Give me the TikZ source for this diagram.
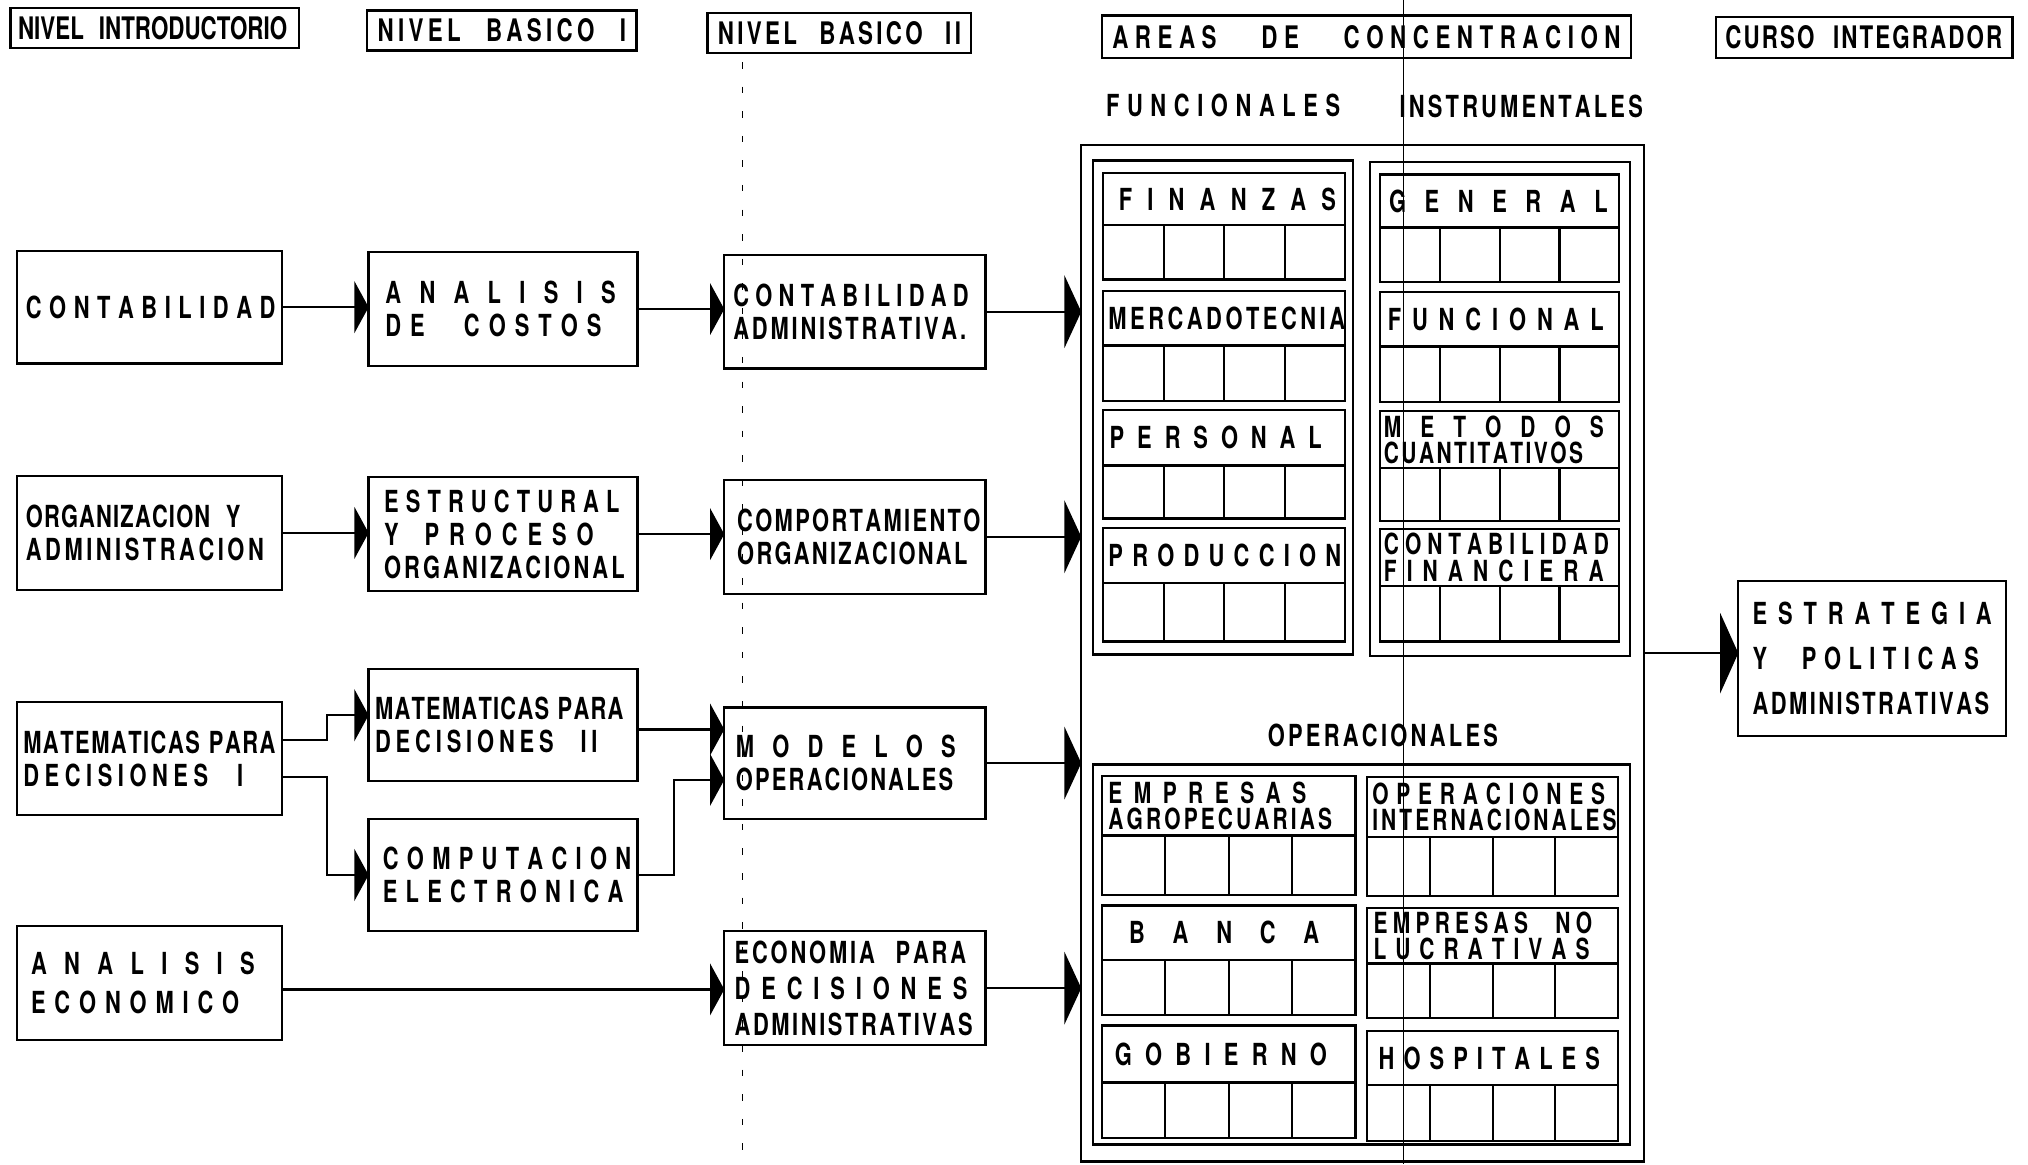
\documentclass[tikz,border=0pt]{standalone}
\usepackage{fontspec}
\newfontfamily\lett{TeX Gyre Heros}[FakeStretch=0.72]
\usetikzlibrary{arrows.meta,calc}

% letter-spaced line of a given width: glue between every pair of characters
\makeatletter
\newcommand\spr[2]{\makebox[#1pt][s]{\spr@loop#2\relax}}
\def\spr@loop#1#2{#1\ifx\relax#2\expandafter\@gobble\else\hfil\expandafter\spr@loop\fi#2}
\makeatother
% one line of a box, left aligned inside the box's text area
\newcommand\ltxt[2]{\makebox[\bxt pt][l]{\spr{#1}{#2}}}

% framed box: [options]{name}{x1}{y1}{x2}{y2}{left pad}{lines}
\newcommand\bx[8][]{%
  \pgfmathsetmacro\bxw{#5-#3}%
  \pgfmathsetmacro\bxh{#6-#4}%
  \pgfmathsetmacro\bxt{#5-#3-2*#7}%
  \node[frame, minimum width=\bxw pt, minimum height=\bxh pt, inner xsep=#7pt, #1]
    (#2) at ({(#3+#5)/2},{(#4+#6)/2}) {#8};}

% course block: label band over a row of four cells
% [options]{name}{x1}{x2}{y top}{y band}{y bottom}{left pad}{label}
\newcommand\sbk[9][]{%
  \bx[#1]{#2}{#3}{#5}{#4}{#6}{#8}{#9}%
  \pgfmathsetmacro\sbh{#7-#6}%
  \node[cellrow, minimum width=\bxw pt, minimum height=\sbh pt, anchor=north west]
    (#2-c) at (#2.south west) {};%
  \foreach \k in {1,2,3}
    \draw[divider] ($(#2-c.north west)!\k/4!(#2-c.north east)$) -- ($(#2-c.south west)!\k/4!(#2-c.south east)$);%
}

\tikzset{
  frame/.style={draw, line width=1.8pt, inner ysep=0pt, outer sep=0pt, align=left,
    font=\lett\bfseries\fontsize{23.5}{25.5}\selectfont},
  head/.style={font=\lett\bfseries\fontsize{24}{26}\selectfont},
  tight/.style={font=\lett\bfseries\fontsize{22.5}{20.5}\selectfont},
  loose/.style={font=\lett\bfseries\fontsize{23.5}{28}\selectfont},
  looser/.style={font=\lett\bfseries\fontsize{23.5}{30}\selectfont},
  widest/.style={font=\lett\bfseries\fontsize{23.5}{35}\selectfont},
  cellrow/.style={draw, line width=1.8pt, inner sep=0pt, outer sep=0pt},
  divider/.style={line width=1.6pt},
  caption/.style={font=\lett\bfseries\fontsize{23.5}{25.5}\selectfont, inner sep=0pt, anchor=base west},
  wire/.style={line width=1.8pt},
  tip/.style={wire, -{Triangle[length=11pt,width=40pt]}},
  bigtip/.style={wire, -{Triangle[length=13pt,width=56pt]}},
  hugetip/.style={wire, -{Triangle[length=14pt,width=62pt]}},
}

\begin{document}
\begin{tikzpicture}[x=1pt,y=-1pt]
\useasboundingbox (0,0) rectangle (1568,900);

% level headings
\bx[head]{hIntro}{8}{6}{231}{37}{6}{\makebox[\bxt pt][l]{\makebox[208pt][s]{NIVEL\hfil INTRODUCTORIO}}}
\bx[head]{hBasI}{284}{8}{492}{39}{8}{\ltxt{192}{NIVEL~~BASICO~~I}}
\bx[head]{hBasII}{547}{10}{751}{41}{8}{\ltxt{188}{NIVEL~~BASICO~~II}}
\bx[head]{hAreas}{852}{12}{1261}{45}{8}{\ltxt{393}{AREAS~~~DE~~~CONCENTRACION}}
\bx[head]{hCurso}{1327}{13}{1556}{45}{7}{\ltxt{214}{CURSO~~INTEGRADOR}}

% introductory level
\bx{cont}{13}{194}{218}{281}{7}{\ltxt{193}{CONTABILIDAD}}
\bx{org}{13}{368}{218}{456}{7}{\ltxt{166}{ORGANIZACION~~Y}\\\ltxt{184}{ADMINISTRACION}}
\bx{mat1}{13}{543}{218}{630}{5}{\ltxt{195}{MATEMATICAS~PARA}\\\ltxt{170}{DECISIONES~~I}}
\bx[looser]{anec}{13}{716}{218}{804}{11}{\ltxt{173}{ANALISIS}\\\ltxt{161}{ECONOMICO}}

% basic level I
\bx{acost}{285}{195}{493}{283}{13}{\ltxt{178}{ANALISIS}\\\ltxt{167}{DE~~COSTOS}}
\bx{estr}{285}{369}{493}{457}{12}{\ltxt{182}{ESTRUCTURAL}\\\ltxt{162}{Y~PROCESO}\\\ltxt{186}{ORGANIZACIONAL}}
\bx{mat2}{285}{517}{493}{604}{5}{\ltxt{192}{MATEMATICAS~PARA}\\\ltxt{172}{DECISIONES~~II}}
\bx{comp}{285}{633}{493}{720}{11}{\ltxt{192}{COMPUTACION}\\\ltxt{186}{ELECTRONICA}}

% basic level II
\bx{cadm}{560}{197}{762}{285}{7}{\ltxt{182}{CONTABILIDAD}\\\ltxt{180}{ADMINISTRATIVA.}}
\bx{comport}{560}{371}{762}{459}{10}{\ltxt{188}{COMPORTAMIENTO}\\\ltxt{178}{ORGANIZACIONAL}}
\bx{model}{560}{547}{762}{633}{9}{\ltxt{170}{MODELOS}\\\ltxt{168}{OPERACIONALES}}
\bx[loose]{econ}{560}{720}{762}{808}{8}{\ltxt{179}{ECONOMIA~~PARA}\\\ltxt{180}{DECISIONES}\\\ltxt{184}{ADMINISTRATIVAS}}

% areas of concentration
\bx{areas}{836}{112}{1271}{898}{0}{}
\node[caption] (tFunc) at (855,90) {\spr{181}{FUNCIONALES}};
\node[caption] (tInst) at (1082,91) {\spr{188}{INSTRUMENTALES}};
\bx{func}{845}{124}{1046}{506}{0}{}
\bx{inst}{1059}{125}{1260}{507}{0}{}

\sbk{fin}{853}{1040}{134}{174}{216}{12}{\ltxt{168}{FINANZAS}}
\sbk{merc}{853}{1040}{225}{267}{310}{4}{\ltxt{183}{MERCADOTECNIA}}
\sbk{pers}{853}{1040}{317}{360}{401}{5}{\ltxt{164}{PERSONAL}}
\sbk{prod}{853}{1040}{408}{451}{496}{4}{\ltxt{180}{PRODUCCION}}

\sbk{gen}{1067}{1252}{135}{176}{218}{7}{\ltxt{169}{GENERAL}}
\sbk{fnc}{1067}{1252}{226}{268}{311}{6}{\ltxt{167}{FUNCIONAL}}
\sbk[tight]{met}{1067}{1252}{318}{362}{403}{3}{\ltxt{170}{METODOS}\\\ltxt{154}{CUANTITATIVOS}}
\sbk[tight]{cfin}{1067}{1252}{409}{453}{496}{3}{\ltxt{174}{CONTABILIDAD}\\\ltxt{170}{FINANCIERA}}

\node[caption] (tOper) at (980,577) {\spr{178}{OPERACIONALES}};
\bx{oper}{845}{591}{1260}{885}{0}{}

\sbk[tight]{agro}{852}{1048}{600}{646}{692}{5}{\ltxt{153}{EMPRESAS}\\\ltxt{173}{AGROPECUARIAS}}
\sbk{banca}{852}{1048}{700}{742}{785}{21}{\ltxt{147}{BANCA}}
\sbk{gob}{852}{1048}{793}{837}{880}{10}{\ltxt{164}{GOBIERNO}}
\sbk[tight]{opint}{1057}{1251}{601}{647}{693}{4}{\ltxt{180}{OPERACIONES}\\\ltxt{189}{INTERNACIONALES}}
\sbk[tight]{nolu}{1057}{1251}{702}{745}{787}{5}{\ltxt{169}{EMPRESAS~~NO}\\\ltxt{167}{LUCRATIVAS}}
\sbk{hosp}{1057}{1251}{797}{839}{882}{9}{\ltxt{171}{HOSPITALES}}

% integrating course
\bx[widest]{estrat}{1344}{449}{1551}{569}{11}{\ltxt{185}{ESTRATEGIA}\\\ltxt{175}{Y~~POLITICAS}\\\ltxt{183}{ADMINISTRATIVAS}}

% prerequisite flow
\draw[tip] (cont.east) -- (cont.east -| acost.west);
\draw[tip] (acost.east) -- (acost.east -| cadm.west);
\draw[bigtip] (cadm.east) -- (cadm.east -| areas.west);
\draw[tip] (org.east) -- (org.east -| estr.west);
\draw[tip] (estr.east) -- (estr.east -| comport.west);
\draw[bigtip] (comport.east) -- (comport.east -| areas.west);
\draw[tip] ([yshift=14.5pt]mat1.east) -- ++(35,0) |- ([yshift=7.5pt]mat2.west);
\draw[tip] ([yshift=-14.5pt]mat1.east) -- ++(35,0) |- (comp.west);
\draw[tip] ([yshift=-3.5pt]mat2.east) -- ([yshift=-3.5pt]mat2.east -| model.west);
\draw[tip] (comp.east) -- ++(28,0) |- ([yshift=-13pt]model.west);
\draw[bigtip] (model.east) -- (model.east -| areas.west);
\draw[tip] ([yshift=-5pt]anec.east) -- ([yshift=-5pt]anec.east -| econ.west);
\draw[bigtip] (econ.east) -- (econ.east -| areas.west);
\draw[hugetip] (areas.east) -- (areas.east -| estrat.west);

% sheet joins
\draw[line width=1pt] (1085,0) -- (1085,900);
\draw[line width=0.7pt, dash pattern=on 5pt off 14pt] (574,48) -- (574,900);
\end{tikzpicture}
\end{document}
